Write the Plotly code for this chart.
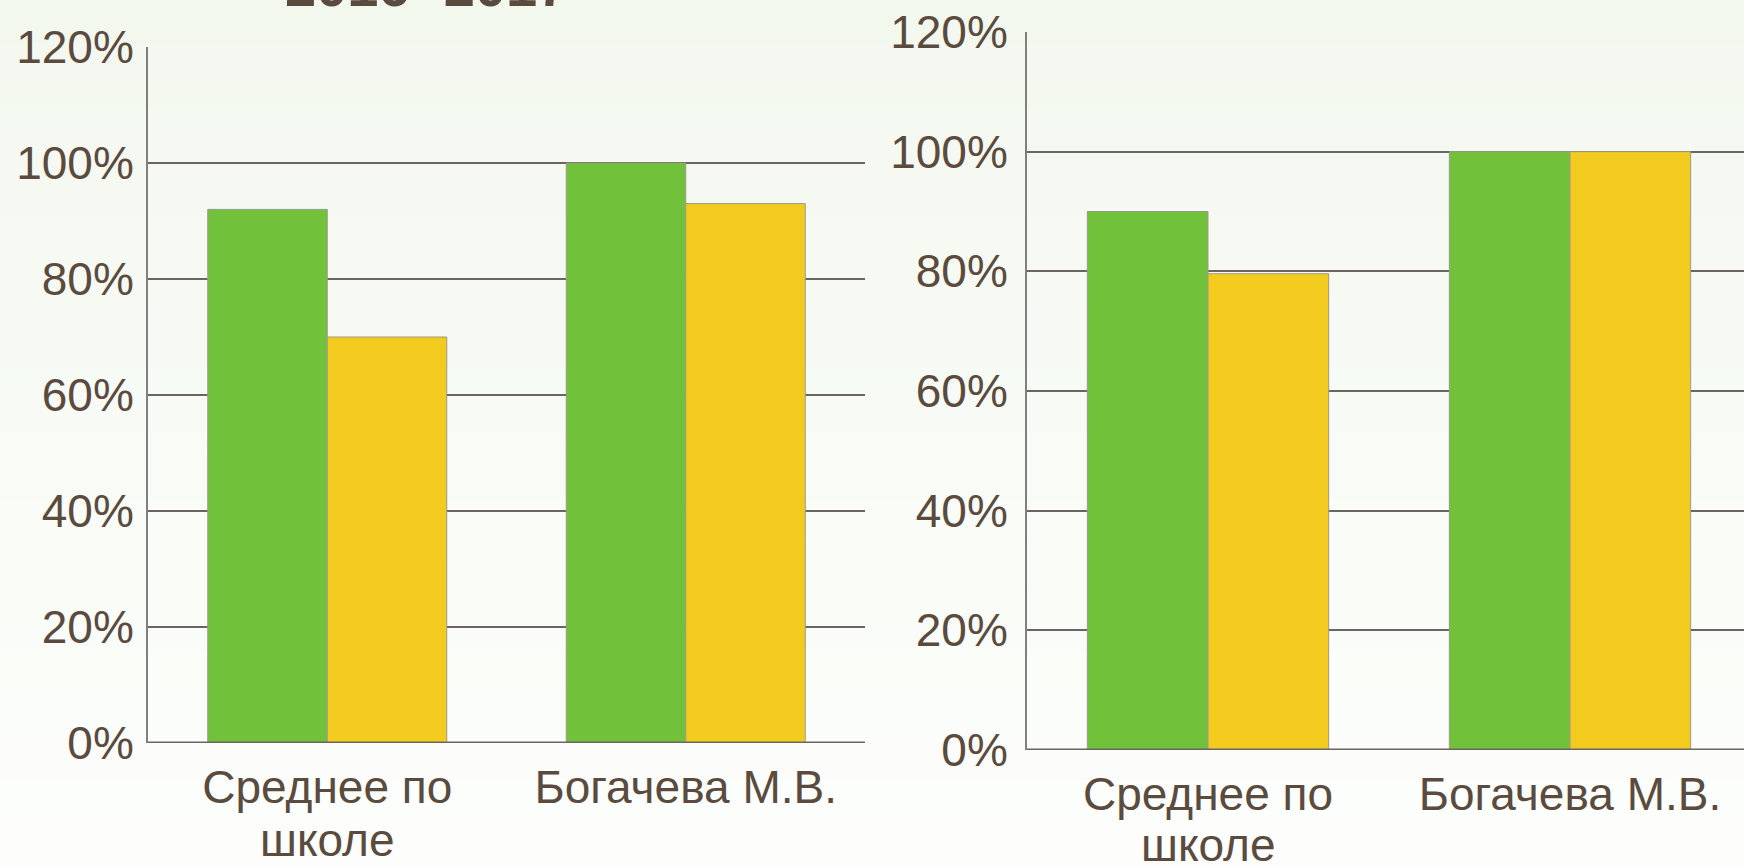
import plotly.graph_objects as go

categories = ["Среднее по школе", "Богачева М.В."]
cat_line1 = ["Среднее по", "Богачева М.В."]
cat_line2 = ["школе", ""]
left_green = [0.92, 1.00]
left_yellow = [0.70, 0.93]
right_green = [0.90, 1.00]
right_yellow = [0.796, 1.00]
tick_vals = [0, 0.2, 0.4, 0.6, 0.8, 1.0, 1.2]
tick_text = ["0%", "20%", "40%", "60%", "80%", "100%", "120%"]
title_text = "2016- 2017"

GREEN = "#72c13a"
YELLOW = "#f3cb1f"
TXT = "#5a4b3e"
GRID = "#6b6560"
FONT = "Liberation Sans, Arial, sans-serif"

W, H = 1744, 866

fig = go.Figure()
for (g, y, xa, ya) in [(left_green, left_yellow, "x", "y"), (right_green, right_yellow, "x2", "y2")]:
    fig.add_trace(go.Bar(x=categories, y=g, marker=dict(color=GREEN, line=dict(color="#9a9a8a", width=1)),
                         xaxis=xa, yaxis=ya, showlegend=False))
    fig.add_trace(go.Bar(x=categories, y=y, marker=dict(color=YELLOW, line=dict(color="#9a9a8a", width=1)),
                         xaxis=xa, yaxis=ya, showlegend=False))

# background gradient stripes
shapes = []
n = 40
top = (243, 248, 239)
bot = (253, 254, 252)
for i in range(n):
    t = i / (n - 1)
    c = tuple(int(round(top[k] + (bot[k] - top[k]) * t)) for k in range(3))
    shapes.append(dict(type="rect", xref="paper", yref="paper", x0=0, x1=1,
                       y1=1 - i / n, y0=1 - (i + 1) / n, fillcolor="rgb(%d,%d,%d)" % c,
                       line=dict(width=0), layer="below"))

def px_to_y(p):
    return 1 - p / H

xaxis_common = dict(showgrid=False, zeroline=False, ticks="", showline=False, automargin=False,
                    ticklabelstandoff=13, tickvals=categories, ticktext=cat_line1,
                    tickfont=dict(family=FONT, size=46, color=TXT), fixedrange=True)
yaxis_common = dict(range=[0, 1.2], tickvals=tick_vals, ticktext=tick_text, showgrid=True, automargin=False,
                    gridcolor=GRID, gridwidth=2, zeroline=False, showline=True, linecolor="#808080",
                    linewidth=2, ticks="", tickfont=dict(family=FONT, size=46, color=TXT))

annotations = [dict(text="<b>" + title_text + "</b>", xref="paper", yref="paper",
                    x=426 / W, y=1 - 20 / H, xanchor="center", yanchor="bottom",
                    showarrow=False, font=dict(family=FONT, size=56, color=TXT))]
for xa, ypx in [("x", 840), ("x2", 845)]:
    for cat, t2 in zip(categories, cat_line2):
        if t2:
            annotations.append(dict(text=t2, xref=xa, yref="paper", x=cat, y=px_to_y(ypx),
                                    xanchor="center", yanchor="middle", showarrow=False,
                                    font=dict(family=FONT, size=46, color=TXT)))

fig.update_layout(
    width=W, height=H,
    margin=dict(l=0, r=0, t=0, b=0),
    paper_bgcolor="#f7faf4",
    plot_bgcolor="rgba(0,0,0,0)",
    barmode="group", bargap=1/3, bargroupgap=0,
    shapes=shapes,
    xaxis=dict(domain=[148 / W, 865 / W], anchor="y", range=[-0.5, 1.5], **xaxis_common),
    yaxis=dict(domain=[px_to_y(743), px_to_y(47)], anchor="x", ticklabelstandoff=3, **yaxis_common),
    xaxis2=dict(domain=[1027 / W, 1.0], anchor="y2", range=[-0.5, 1.5 - 7 / 362], **xaxis_common),
    yaxis2=dict(domain=[px_to_y(750), px_to_y(32)], anchor="x2", ticklabelstandoff=8, **yaxis_common),
    annotations=annotations,
)

# bottom axis line at 0%
for xa, ya in [("x", "y"), ("x2", "y2")]:
    fig.add_shape(type="line", xref=xa + " domain", yref=ya, x0=0, x1=1, y0=0, y1=0,
                  line=dict(color=GRID, width=3))

fig.write_html("out.html", config={"displayModeBar": False},
               post_script="document.body.style.margin='0';document.body.style.overflow='hidden';")
